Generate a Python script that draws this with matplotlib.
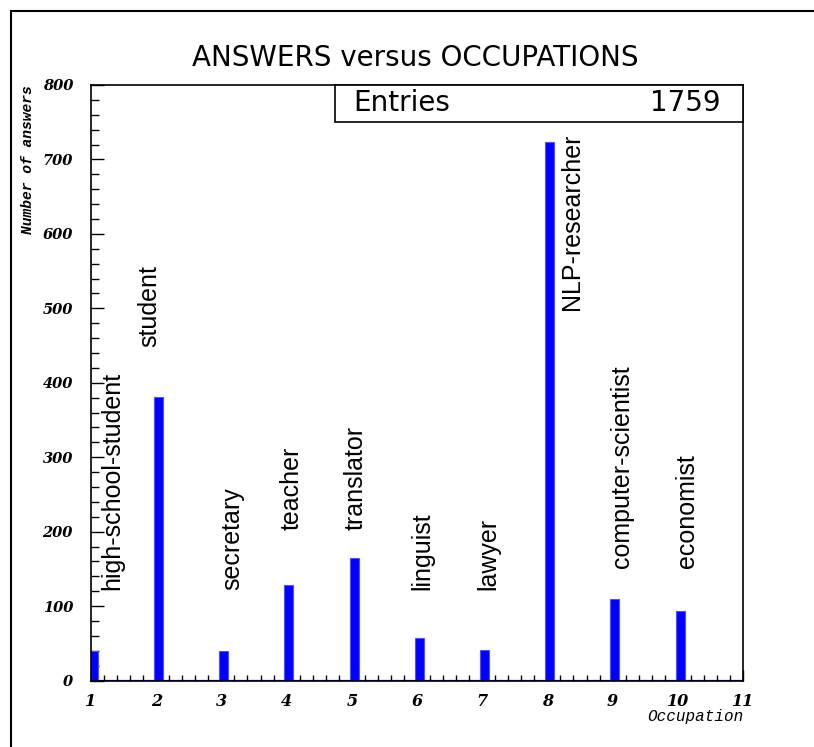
import numpy as np
import matplotlib
matplotlib.use("Agg")
import matplotlib.pyplot as plt
from matplotlib.lines import Line2D
from matplotlib.patches import Rectangle
from matplotlib.ticker import MultipleLocator

# data
occupation = [1, 2, 3, 4, 5, 6, 7, 8, 9, 10]
answers = [40, 381, 39, 128, 165, 57, 41, 724, 109, 93]
names = ["high-school-student", "student", "secretary", "teacher", "translator",
         "linguist", "lawyer", "NLP-researcher", "computer-scientist", "economist"]
entries = 1759

# where each occupation name sits (data coords, bottom of the text)
label_pos = [(1.32, 122), (1.89, 448), (3.16, 122), (4.07, 202), (5.06, 202),
             (6.08, 122), (7.10, 122), (8.37, 498), (9.15, 151), (10.14, 151)]

fig = plt.figure(figsize=(8.14, 7.47), dpi=100)
ax = fig.add_axes([91/814, 1-680.5/747, 652/814, 595.5/747])

# ROOT-ish pad frame (left and top only visible)
fig.add_artist(Line2D([11/814, 11/814], [0, 1-11/747], color="black", lw=1.5))
fig.add_artist(Line2D([11/814, 1], [1-11/747, 1-11/747], color="black", lw=1.5))

ax.bar(np.array(occupation) - 0.035, answers, width=0.14, align="edge",
       color="#0000ff", edgecolor="#5050ff", linewidth=0.8, zorder=2)
ax.axhline(0, color="#0000ff", lw=1.6, zorder=1)

ax.set_xlim(1, 11)
ax.set_ylim(0, 800)
ax.xaxis.set_major_locator(MultipleLocator(1))
ax.xaxis.set_minor_locator(MultipleLocator(0.2))
ax.yaxis.set_major_locator(MultipleLocator(100))
ax.yaxis.set_minor_locator(MultipleLocator(20))
ax.tick_params(axis="x", which="major", direction="in", length=8, width=1, top=False, pad=9)
ax.tick_params(axis="x", which="minor", direction="in", length=4.3, width=1, top=False)
ax.tick_params(axis="y", which="major", direction="in", length=9, width=1, right=False, pad=13)
ax.tick_params(axis="y", which="minor", direction="in", length=5.5, width=1, right=False)
for s in ax.spines.values():
    s.set_linewidth(1.2)

for t in ax.get_xticklabels():
    t.set_fontfamily("DejaVu Serif")
    t.set_fontstyle("italic")
    t.set_fontweight("bold")
    t.set_fontsize(11.5)
for t in ax.get_yticklabels():
    t.set_fontfamily("DejaVu Serif")
    t.set_fontstyle("italic")
    t.set_fontweight("bold")
    t.set_fontsize(10.5)

for name, (x, y) in zip(names, label_pos):
    ax.text(x, y, name, rotation=90, ha="center", va="bottom",
            fontsize=18, family="Liberation Sans", zorder=3)

# axis titles
fig.text(28/814, 1-85/747, "Number of answers", rotation=90, ha="center", va="top",
         family="Liberation Mono", style="italic", weight="bold", fontsize=10.5)
fig.text(743/814, 1-716/747, "Occupation", ha="right", va="center",
         family="Liberation Mono", style="italic", fontsize=11.5)

fig.text(415/814, 1-58/747, "ANSWERS versus OCCUPATIONS", ha="center", va="center",
         family="DejaVu Sans", fontsize=20)

# stats box
ax.add_patch(Rectangle((0.374, 0.938), 0.626, 0.062, transform=ax.transAxes,
                       facecolor="white", edgecolor="black", lw=1.2, zorder=5, clip_on=False))
ax.text(0.402, 0.969, "Entries", transform=ax.transAxes, ha="left", va="center",
        family="DejaVu Sans", fontsize=20, zorder=6)
ax.text(0.965, 0.969, str(entries), transform=ax.transAxes, ha="right", va="center",
        family="DejaVu Sans", fontsize=20, zorder=6)

fig.savefig("out.png", dpi=100)
